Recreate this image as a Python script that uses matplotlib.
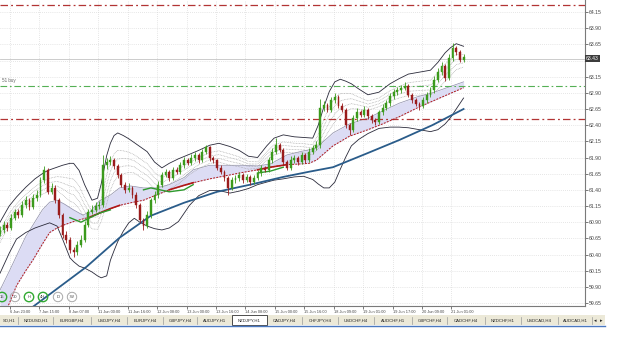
import numpy as np
import matplotlib
matplotlib.use("Agg")
import matplotlib.pyplot as plt
from matplotlib.patches import Rectangle, Circle
from matplotlib.lines import Line2D
from matplotlib.transforms import blended_transform_factory

plt.rcParams["font.family"] = ["Liberation Sans", "DejaVu Sans"]

# ---------------- data (NZDJPY, H1) ----------------
opens = [60.72,60.78,60.86,60.81,60.97,61.06,61.01,61.17,61.24,61.14,
         61.27,61.32,61.55,61.71,61.37,61.43,61.24,61.01,60.70,60.63,
         60.47,60.44,60.55,60.63,60.86,61.06,61.09,61.15,61.17,61.78,
         61.83,61.86,61.77,61.63,61.48,61.40,61.43,61.32,61.17,60.93,
         60.84,61.01,61.24,61.32,61.48,61.63,61.68,61.58,61.71,61.68,
         61.78,61.86,61.82,61.89,61.94,61.86,61.99,62.06,61.89,61.86,
         61.74,61.68,61.58,61.43,61.55,61.58,61.63,61.55,61.60,61.52,
         61.58,61.66,61.74,61.71,61.86,61.99,62.09,62.02,61.83,61.74,
         61.86,61.89,61.83,61.94,61.86,61.99,62.05,62.09,62.67,62.71,
         62.64,62.79,62.84,62.70,62.64,62.40,62.33,62.51,62.60,62.56,
         62.64,62.54,62.48,62.45,62.60,62.67,62.74,62.85,62.91,62.94,
         62.98,63.01,62.87,62.79,62.73,62.70,62.79,62.87,62.94,63.10,
         63.22,63.32,63.13,63.44,63.59,63.53,63.41]
closes = [60.78,60.86,60.81,60.97,61.06,61.01,61.17,61.24,61.14,61.27,
          61.32,61.55,61.71,61.37,61.43,61.24,61.01,60.70,60.63,60.47,
          60.44,60.55,60.63,60.86,61.06,61.09,61.15,61.17,61.78,61.83,
          61.86,61.77,61.63,61.48,61.40,61.43,61.32,61.17,60.93,60.84,
          61.01,61.24,61.32,61.48,61.63,61.68,61.58,61.71,61.68,61.78,
          61.86,61.82,61.89,61.94,61.86,61.99,62.06,61.89,61.86,61.74,
          61.68,61.58,61.43,61.55,61.58,61.63,61.55,61.60,61.52,61.58,
          61.66,61.74,61.71,61.86,61.99,62.09,62.02,61.83,61.74,61.86,
          61.89,61.83,61.94,61.86,61.99,62.05,62.09,62.67,62.71,62.64,
          62.79,62.84,62.70,62.64,62.40,62.33,62.51,62.60,62.56,62.64,
          62.54,62.48,62.45,62.60,62.67,62.74,62.85,62.91,62.94,62.98,
          63.01,62.87,62.79,62.73,62.70,62.79,62.87,62.94,63.10,63.22,
          63.32,63.13,63.44,63.59,63.53,63.41,63.45]
highs = [60.84,60.92,60.90,61.03,61.10,61.11,61.22,61.30,61.28,61.33,
         61.40,61.60,61.77,61.74,61.50,61.47,61.28,61.04,60.76,60.67,
         60.52,60.61,60.70,60.92,61.10,61.16,61.21,61.22,61.94,61.90,
         61.92,61.89,61.80,61.66,61.52,61.50,61.46,61.36,61.20,60.97,
         61.07,61.28,61.38,61.53,61.68,61.73,61.71,61.76,61.75,61.83,
         61.91,61.89,61.95,61.99,61.97,62.03,62.10,62.08,61.93,61.88,
         61.78,61.71,61.61,61.60,61.63,61.68,61.66,61.65,61.63,61.63,
         61.71,61.79,61.77,61.91,62.04,62.20,62.12,62.05,61.86,61.92,
         61.94,61.92,61.99,61.97,62.04,62.10,62.15,62.80,62.77,62.74,
         62.84,62.89,62.86,62.74,62.67,62.44,62.56,62.66,62.63,62.69,
         62.67,62.57,62.51,62.64,62.72,62.79,62.90,62.96,62.99,63.02,
         63.06,63.03,62.90,62.82,62.76,62.84,62.92,62.99,63.16,63.28,
         63.38,63.35,63.50,63.67,63.62,63.56,63.50]
lows = [60.68,60.74,60.76,60.78,60.93,60.96,60.98,61.12,61.09,61.11,
        61.23,61.29,61.50,61.33,61.34,61.20,60.97,60.66,60.58,60.42,
        60.36,60.40,60.51,60.60,60.82,61.02,61.05,61.11,61.14,61.73,
        61.79,61.72,61.59,61.44,61.35,61.37,61.28,61.12,60.88,60.78,
        60.81,60.97,61.20,61.28,61.44,61.60,61.54,61.55,61.64,61.65,
        61.74,61.78,61.79,61.85,61.82,61.83,61.95,61.85,61.82,61.70,
        61.64,61.54,61.32,61.40,61.51,61.54,61.51,61.52,61.48,61.49,
        61.55,61.62,61.67,61.68,61.82,61.96,61.98,61.79,61.70,61.71,
        61.82,61.79,61.80,61.82,61.83,61.95,62.01,62.04,62.62,62.60,
        62.61,62.75,62.66,62.60,62.36,62.25,62.30,62.47,62.52,62.53,
        62.50,62.44,62.40,62.42,62.56,62.63,62.70,62.81,62.87,62.90,
        62.94,62.83,62.75,62.69,62.63,62.67,62.75,62.83,62.90,63.06,
        63.18,63.09,63.10,63.40,63.49,63.37,63.38]

# moving averages / cloud (bar index, price)
ma_bars = [0, 5, 9, 14, 18, 23, 27, 31, 35, 40, 45, 49, 54, 60, 65, 71, 78, 85, 92,
           100, 105, 114, 123, 132, 140, 147, 156, 163, 168, 172, 181, 190, 200,
           208, 217, 227, 235, 252]
slow_ma = [59.35, 59.64, 59.92, 60.15, 60.32, 60.56, 60.74, 60.81, 60.86, 60.91,
           60.95, 60.98, 61.04, 61.11, 61.16, 61.20, 61.24, 61.32, 61.40, 61.47,
           61.51, 61.57, 61.62, 61.67, 61.71, 61.75, 61.79, 61.80, 61.81, 61.86,
           62.08, 62.23, 62.33, 62.42, 62.53, 62.67, 62.77, 62.98]
fast_ma = [59.85, 60.14, 60.38, 60.68, 60.86, 61.09, 61.21, 61.24, 61.18, 61.09,
           61.01, 61.06, 61.23, 61.32, 61.43, 61.46, 61.43, 61.43, 61.48, 61.59,
           61.71, 61.78, 61.78, 61.78, 61.77, 61.80, 61.94, 61.99, 62.02, 62.05,
           62.28, 62.42, 62.51, 62.62, 62.74, 62.84, 62.90, 63.07]
red_bold_ranges = [(49, 65), (92, 105), (140, 156)]

bb_bars = [0, 5, 9, 14, 19, 24, 27, 31, 34, 38, 40, 43, 46, 50, 53, 55, 58, 60, 62,
           64, 67, 70, 73, 76, 80, 84, 88, 92, 97, 103, 108, 114, 119, 125, 130,
           135, 140, 145, 149, 154, 160, 165, 170, 173, 176, 179, 182, 185, 188,
           191, 195, 200, 206, 212, 217, 222, 228, 234, 238, 242, 245, 248, 252]
bb_upper = [60.90, 61.15, 61.29, 61.44, 61.57, 61.67, 61.71, 61.75, 61.78, 61.81,
            61.81, 61.70, 61.48, 61.24, 61.27, 61.49, 61.93, 62.12, 62.24, 62.28,
            62.24, 62.19, 62.13, 62.07, 61.99, 61.83, 61.74, 61.81, 61.88, 61.95,
            62.01, 62.09, 62.12, 62.07, 62.01, 61.92, 61.90, 62.08, 62.20, 62.25,
            62.22, 62.21, 62.20, 62.40, 62.68, 62.92, 63.07, 63.11, 63.08, 63.04,
            62.96, 62.87, 62.91, 63.04, 63.12, 63.19, 63.22, 63.25, 63.37, 63.52,
            63.60, 63.66, 63.62]
bb_lower = [60.11, 60.42, 60.64, 60.74, 60.81, 60.86, 60.89, 60.84, 60.64, 60.35,
            60.29, 60.22, 60.19, 60.13, 60.07, 60.04, 60.07, 60.31, 60.46, 60.60,
            60.76, 60.89, 60.96, 60.90, 60.84, 60.80, 60.78, 60.81, 60.91, 61.16,
            61.31, 61.39, 61.39, 61.35, 61.38, 61.42, 61.48, 61.52, 61.55, 61.57,
            61.60, 61.61, 61.56, 61.49, 61.43, 61.43, 61.52, 61.72, 61.91, 62.08,
            62.18, 62.27, 62.35, 62.37, 62.37, 62.36, 62.33, 62.30, 62.33, 62.42,
            62.52, 62.65, 62.82]
env_levels = [0.60, 0.68, 0.76, 0.84]

blue_bars = [14, 23, 47, 65, 82, 100, 118, 136, 154, 168, 181, 200, 217, 235, 252]
blue_ma = [59.51, 59.70, 60.21, 60.66, 61.00, 61.20, 61.37, 61.48, 61.60, 61.68,
           61.75, 61.97, 62.17, 62.40, 62.65]

green_bars = [[38, 44, 49, 54, 60], [78, 82, 87, 92, 100, 105], [140, 147, 154]]
green_vals = [[60.97, 60.90, 60.97, 61.04, 61.09],
              [61.40, 61.43, 61.40, 61.37, 61.40, 61.48],
              [61.66, 61.69, 61.75]]

level_top = 64.26
level_buy = 63.01
level_low = 62.50
last_price = 63.43
price_label = "63.43"
buy_label = "51 buy"

y_ticks = [59.65, 59.90, 60.15, 60.40, 60.65, 60.90, 61.15, 61.40, 61.65, 61.90,
           62.15, 62.40, 62.65, 62.90, 63.15, 63.40, 63.65, 63.90, 64.15]
x_tick_bars = [5.4, 21.4, 37.4, 53.4, 69.4, 85.4, 101.4, 117.4, 133.4, 149.4,
               165.4, 181.4, 197.4, 213.4, 229.4, 245.4]
x_tick_labels = ["6 Jun 23:00", "7 Jun 15:00", "8 Jun 07:00", "11 Jun 00:00",
                 "11 Jun 16:00", "12 Jun 08:00", "13 Jun 00:00", "13 Jun 16:00",
                 "14 Jun 08:00", "15 Jun 00:00", "15 Jun 16:00", "18 Jun 09:00",
                 "19 Jun 01:00", "19 Jun 17:00", "20 Jun 09:00", "21 Jun 01:00"]
tabs = ["SD,H1", "NZDUSD,H1", "EURGBP,H4", "USDJPY,H4", "EURJPY,H4", "GBPJPY,H4",
        "AUDJPY,H1", "NZDJPY,H1", "CADJPY,H4", "CHFJPY,H4", "USDCHF,H4", "AUDCHF,H1",
        "GBPCHF,H4", "CADCHF,H4", "NZDCHF,H1", "USDCAD,H4", "AUDCAD,H1"]
active_tab = "NZDJPY,H1"
tf_buttons = ["15", "30", "H", "4H", "D", "W"]
tf_on = [True, False, True, True, False, False]

# ---------------- figure ----------------
W, H = 625, 353
fig = plt.figure(figsize=(W / 100, H / 100), dpi=100)
fig.patch.set_facecolor("white")
ax = fig.add_axes([0, 47 / H, 585 / W, 306 / H])
ax.set_facecolor("white")
ax.set_xlim(0, 318)
ax.set_ylim(59.604, 64.3355)

for s in ["left", "top"]:
    ax.spines[s].set_visible(False)
for s in ["right", "bottom"]:
    ax.spines[s].set_color("#7a7a7a")
    ax.spines[s].set_linewidth(0.8)

ax.yaxis.tick_right()
ax.set_yticks(y_ticks)
# the 63.40 label is hidden under the last-price tag in the terminal
ax.set_yticklabels(["" if abs(v - 63.40) < 1e-6 else f"{v:.2f}" for v in y_ticks])
ax.set_xticks(x_tick_bars)
ax.set_xticklabels(x_tick_labels)
for lbl in ax.get_xticklabels():
    lbl.set_ha("left")
ax.tick_params(axis="y", labelsize=3.7, colors="#444444", length=2, width=0.5, pad=1)
ax.tick_params(axis="x", labelsize=2.8, colors="#444444", length=2, width=0.5, pad=1)
ax.grid(True, color="#cfcfcf", linestyle=(0, (1, 2)), linewidth=0.5)
ax.set_axisbelow(True)

# cloud
ax.fill_between(ma_bars, fast_ma, slow_ma, color="#dcdcf4", lw=0, zorder=1)
ax.plot(ma_bars, fast_ma, color="#8c8ca8", lw=0.5, zorder=2)

# Bollinger bands and inner envelopes
bbu = np.array(bb_upper)
bbl = np.array(bb_lower)
for f in env_levels:
    ax.plot(bb_bars, bbl + f * (bbu - bbl), color="#a0a0a0", lw=0.5,
            linestyle=(0, (1, 1.2)), zorder=2)
ax.plot(bb_bars, bb_upper, color="#2a2a3a", lw=0.6, zorder=3)
ax.plot(bb_bars, bb_lower, color="#2a2a3a", lw=0.6, zorder=3)

# moving averages
ax.plot(ma_bars, slow_ma, color="#b01818", lw=0.7, linestyle=(0, (2, 1.3)), zorder=3)
mb = np.array(ma_bars)
sm = np.array(slow_ma)
for lo, hi in red_bold_ranges:
    m = (mb >= lo) & (mb <= hi)
    ax.plot(mb[m], sm[m], color="#b01818", lw=1.2, zorder=3)
for gb, gv in zip(green_bars, green_vals):
    ax.plot(gb, gv, color="#2e9a2e", lw=1.0, zorder=3)
ax.plot(blue_bars, blue_ma, color="#2a5c8a", lw=1.3, zorder=4)

# horizontal levels
dashdot = (0, (6, 2.5, 1.5, 2.5))
ax.axhline(level_top, color="#b23434", lw=0.9, linestyle=dashdot, zorder=2)
ax.axhline(level_low, color="#b23434", lw=0.9, linestyle=dashdot, zorder=2)
ax.axhline(level_buy, color="#55b055", lw=0.8, linestyle=dashdot, zorder=2)
ax.axhline(last_price, color="#c4c4c4", lw=0.6, zorder=2)
ax.text(1, level_buy + 0.035, buy_label, fontsize=3.3, color="#666666", va="bottom", zorder=5)

# candles
o = np.array(opens); c = np.array(closes)
hi_ = np.array(highs); lo_ = np.array(lows)
xb = np.arange(len(c)) * 2
up = c >= o
col = np.where(up, "#3b9a1c", "#9a1c1c")
ax.vlines(xb, lo_, hi_, colors=col, lw=0.6, zorder=5)
bottom = np.minimum(o, c)
height = np.maximum(np.abs(c - o), 0.008)
ax.bar(xb, height, bottom=bottom, width=1.0, color=col, edgecolor=col, lw=0.3, zorder=6)

# last price tag
tr = blended_transform_factory(ax.transAxes, ax.transData)
ax.text(1.002, last_price, price_label, transform=tr, fontsize=3.7, color="white",
        va="center", ha="left", zorder=10, clip_on=False,
        bbox=dict(boxstyle="square,pad=0.15", facecolor="#3c3c3c", edgecolor="none"))

# timeframe buttons (figure pixel coordinates)
def fx(px):
    return px / 100.0

def fy(py):
    return (H - py) / 100.0

for i, (name, on) in enumerate(zip(tf_buttons, tf_on)):
    cx = [2, 15, 29, 43, 58, 72][i]
    circ = Circle((fx(cx), fy(297)), radius=0.047, transform=fig.dpi_scale_trans,
                  facecolor="none", edgecolor="#33aa33" if on else "#a8a8a8",
                  lw=1.0 if on else 0.7, zorder=20)
    fig.add_artist(circ)
    fig.text(cx / W, 1 - 297 / H, name, fontsize=3.0, ha="center", va="center",
             color="#444444")

# tab bar
fig.add_artist(Rectangle((0, 1 - 325 / H), 605 / W, 10 / H, transform=fig.transFigure,
                         facecolor="#ece9d8", edgecolor="none", zorder=1))
seps = [-20, 18, 53, 91, 127, 163, 197, 232, 267, 302, 338, 374, 412, 447, 485, 521, 558, 592]
for k, name in enumerate(tabs):
    a, b = seps[k], seps[k + 1]
    if name == active_tab:
        fig.add_artist(Rectangle((a / W, 1 - 325 / H), (b - a) / W, 10.5 / H,
                                 transform=fig.transFigure, facecolor="white",
                                 edgecolor="#333333", lw=0.6, zorder=2))
    else:
        fig.add_artist(Line2D([b / W, b / W], [1 - 323.5 / H, 1 - 316.5 / H],
                              transform=fig.transFigure, color="#9a9a9a", lw=0.5))
    cxp = max(a, 0) + (b - max(a, 0)) / 2
    fig.text(cxp / W, 1 - 320.5 / H, name, fontsize=3.1, ha="center", va="center",
             color="#222222", zorder=3)
fig.text(595 / W, 1 - 320.5 / H, "\u25c2", fontsize=3.6, ha="center", va="center",
         color="#222222", family="DejaVu Sans")
fig.text(601 / W, 1 - 320.5 / H, "\u25b8", fontsize=3.6, ha="center", va="center",
         color="#222222", family="DejaVu Sans")
fig.add_artist(Line2D([0, 605 / W], [1 - 325.5 / H, 1 - 325.5 / H], transform=fig.transFigure,
                      color="#4a78c0", lw=1.0))

fig.savefig("out.png", dpi=100, facecolor="white")
